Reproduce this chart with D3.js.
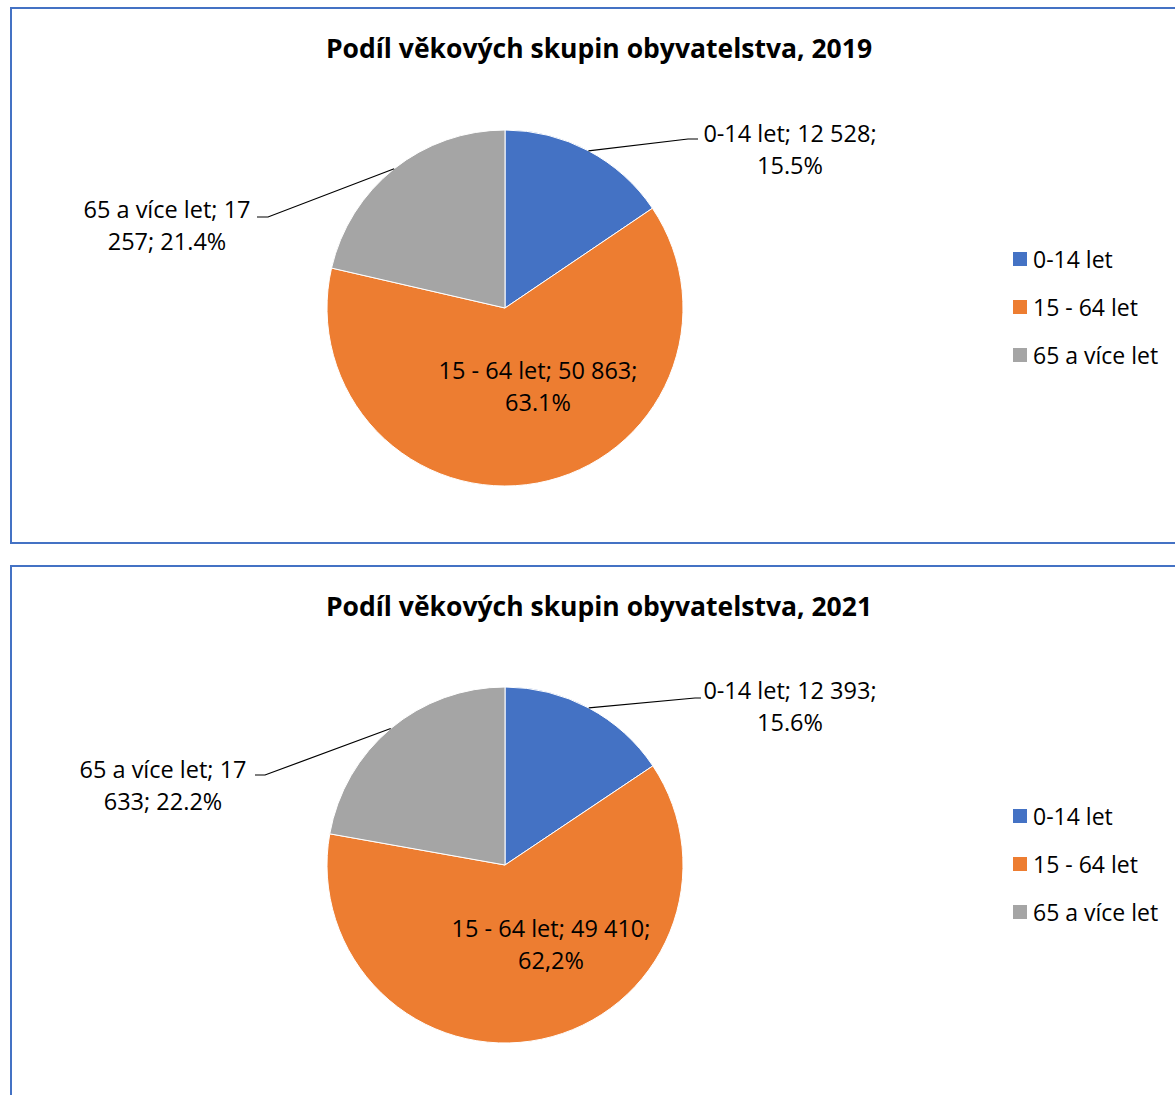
<!DOCTYPE html>
<html>
<head>
<meta charset="utf-8">
<script src="https://cdn.jsdelivr.net/npm/d3@7"></script>
<style>
  html, body { margin: 0; padding: 0; background: #fff; }
  text { font-family: "Open Sans", "Noto Sans", sans-serif; fill: #000; }
</style>
</head>
<body>
<svg id="chart" width="1175" height="1095"></svg>
<script>
// ---- data ----
const categories = ["0-14 let", "15 - 64 let", "65 a více let"];
const years = ["2019", "2021"];
const values2019 = [12528, 50863, 17257];
const values2021 = [12393, 49410, 17633];
const percentLabels2019 = ["15.5%", "63.1%", "21.4%"];
const percentLabels2021 = ["15.6%", "62,2%", "22.2%"];
const countLabels2019 = ["12 528", "50 863", "17 257"];
const countLabels2021 = ["12 393", "49 410", "17 633"];
const titlePrefix = "Podíl věkových skupin obyvatelstva, ";
const colors = ["#4472C4", "#ED7D31", "#A5A5A5"];

const datasets = [
  { year: years[0], values: values2019, pct: percentLabels2019, cnt: countLabels2019 },
  { year: years[1], values: values2021, pct: percentLabels2021, cnt: countLabels2021 }
];

// ---- layout (not data) ----
const panels = [
  { top: 8, height: 535, cx: 505, cy: 308,
    labels: [
      { dx: 285, dy: -175, lines: d => [d.cat + "; " + d.cnt + ";", d.pct], elbow: [183, -169], end: [193, -169] },
      { dx: 33, dy: 62, lines: d => [d.cat + "; " + d.cnt + ";", d.pct] },
      { dx: -338, dy: -99, lines: d => [d.cat + "; " + d.cnt.split(" ")[0], d.cnt.split(" ")[1] + "; " + d.pct], elbow: [-237, -91], end: [-248, -91] }
    ] },
  { top: 566, height: 560, cx: 505, cy: 865,
    labels: [
      { dx: 285, dy: -175, lines: d => [d.cat + "; " + d.cnt + ";", d.pct], elbow: [190, -167], end: [196, -167] },
      { dx: 46, dy: 63, lines: d => [d.cat + "; " + d.cnt + ";", d.pct] },
      { dx: -342, dy: -96, lines: d => [d.cat + "; " + d.cnt.split(" ")[0], d.cnt.split(" ")[1] + "; " + d.pct], elbow: [-240, -90], end: [-250, -90] }
    ] }
];

const R = 178;
const svg = d3.select("#chart");
const color = d3.scaleOrdinal().domain(categories).range(colors);
const pie = d3.pie().sort(null).value(d => d.value);
const arc = d3.arc().innerRadius(0).outerRadius(R);

datasets.forEach((ds, i) => {
  const p = panels[i];
  const g = svg.append("g");

  // frame
  g.append("rect")
    .attr("x", 11).attr("y", p.top)
    .attr("width", 1180).attr("height", p.height)
    .attr("fill", "#fff")
    .attr("stroke", "#4472C4").attr("stroke-width", 2);

  // title
  g.append("text")
    .attr("x", 599).attr("y", p.top + 40)
    .attr("text-anchor", "middle").attr("dominant-baseline", "central")
    .attr("font-size", 26.5).attr("font-weight", "bold")
    .text(titlePrefix + ds.year);

  const rows = categories.map((c, k) => ({ cat: c, value: ds.values[k], pct: ds.pct[k], cnt: ds.cnt[k] }));
  const arcs = pie(rows);

  const pg = g.append("g").attr("transform", `translate(${p.cx},${p.cy})`);
  pg.selectAll("path.slice").data(arcs).join("path")
    .attr("class", "slice")
    .attr("d", arc)
    .attr("fill", d => color(d.data.cat))
    .attr("stroke", "#fff").attr("stroke-width", 1);

  // labels
  arcs.forEach((a, k) => {
    const L = p.labels[k];
    if (L.elbow) {
      const mid = (a.startAngle + a.endAngle) / 2;
      const sx = R * Math.sin(mid), sy = -R * Math.cos(mid);
      pg.append("polyline")
        .attr("points", [[sx, sy], L.elbow, L.end].map(q => q.join(",")).join(" "))
        .attr("fill", "none").attr("stroke", "#000").attr("stroke-width", 1.2);
    }
    const t = pg.append("text")
      .attr("text-anchor", "middle")
      .attr("font-size", 23.5);
    L.lines(a.data).forEach((ln, j) => {
      t.append("tspan")
        .attr("x", L.dx).attr("y", L.dy + j * 32)
        .attr("dominant-baseline", "central")
        .text(ln);
    });
  });

  // legend
  const lg = g.append("g").attr("transform", `translate(1013,${p.cy - 49})`);
  categories.forEach((c, k) => {
    const row = lg.append("g").attr("transform", `translate(0,${k * 48})`);
    row.append("rect").attr("x", 0).attr("y", -7).attr("width", 14).attr("height", 14).attr("fill", color(c));
    row.append("text").attr("x", 20).attr("y", 0)
      .attr("dominant-baseline", "central").attr("font-size", 23).text(c);
  });
});
</script>
</body>
</html>
